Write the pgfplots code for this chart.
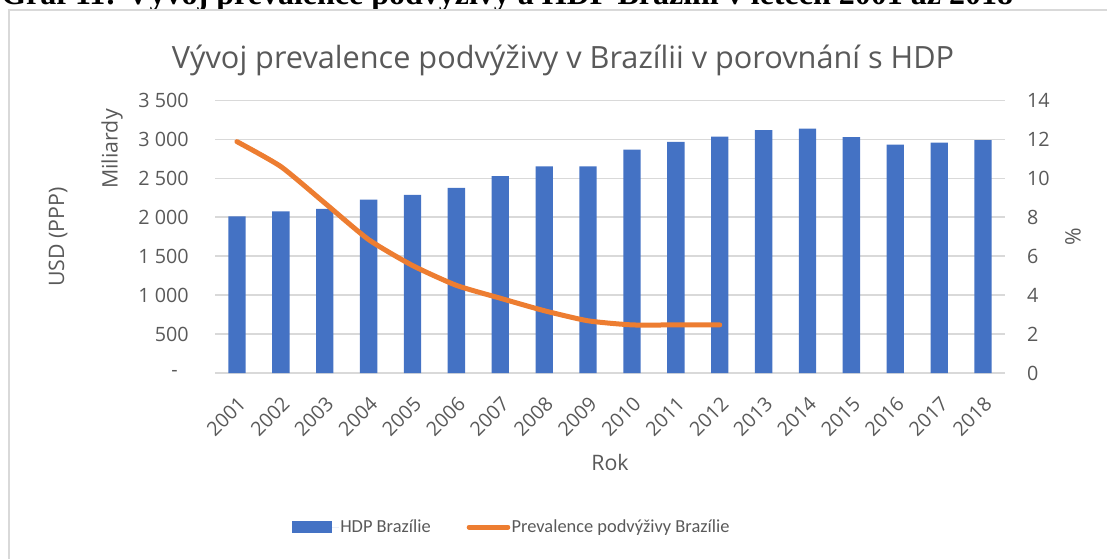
\documentclass[border=0pt]{standalone}
\usepackage{fontspec}
\setmainfont{Open Sans}
\newfontfamily\carlito{Carlito}
\newfontfamily\capfont{Liberation Serif}
\usepackage{pgfplots}
\pgfplotsset{compat=1.18}
\definecolor{barblue}{HTML}{4472C4}
\definecolor{lineor}{HTML}{ED7D31}
\definecolor{txtgray}{HTML}{595959}
\definecolor{gridgray}{HTML}{D9D9D9}
\begin{document}
\begin{tikzpicture}[x=0.75pt,y=0.75pt]
\useasboundingbox (0,0) rectangle (1107,558);
\clip (0,0) rectangle (1107,558);
\node[anchor=base west, inner sep=0pt, font=\capfont\bfseries\fontsize{24}{28}\selectfont] at (1,553) {Graf 11: Vývoj prevalence podvýživy a HDP Brazílii v letech 2001 až 2018};
\draw[gridgray, line width=1.1pt] (9,-20) -- (9,548) -- (1130,548);
\node[anchor=base, inner sep=0pt, text=txtgray, font=\fontsize{23}{27}\selectfont] at (563,489) {Vývoj prevalence podvýživy v Brazílii v porovnání s HDP};

\begin{axis}[
  at={(161.25pt,138.75pt)}, anchor=south west, scale only axis,
  width=592.5pt, height=204.5pt,
  xmin=-0.5, xmax=17.5, ymin=0, ymax=3500,
  axis line style={draw=none}, major tick length=0pt,
  ymajorgrids, grid style={gridgray, line width=1.1pt},
  xtick={0,...,17},
  xticklabels={2001,2002,2003,2004,2005,2006,2007,2008,2009,2010,2011,2012,2013,2014,2015,2016,2017,2018},
  xticklabel style={yshift=-16.5pt, rotate=45, anchor=north east, inner sep=0pt, text=txtgray, font=\fontsize{14.8}{17}\selectfont},
  ytick={0,500,...,3500},
  yticklabels={\mbox{-\hspace*{8.25pt}},500,1 000,1 500,2 000,2 500,3 000,3 500},
  yticklabel style={anchor=east, inner sep=0pt, xshift=-19.5pt, text=txtgray, font=\fontsize{14.8}{17}\selectfont},
  xlabel={Rok},
  xlabel style={at={(axis description cs:0.5,-0.3265)}, anchor=center, inner sep=0pt, text=txtgray, font=\fontsize{16}{19}\selectfont},
  ylabel={USD (PPP)},
  ylabel style={at={(axis description cs:-0.1987,0.499)}, anchor=center, rotate=0, inner sep=0pt, text=txtgray, font=\fontsize{16}{19}\selectfont},
  clip=false,
]
\addplot[ybar, bar width=13pt, fill=barblue, draw=none] coordinates {
(0,2011) (1,2076) (2,2106) (3,2226) (4,2286) (5,2376) (6,2526) (7,2651) (8,2651)
(9,2866) (10,2968) (11,3033) (12,3118) (13,3136) (14,3028) (15,2930) (16,2956) (17,2989)};
\node[rotate=90, inner sep=0pt, text=txtgray, font=\fontsize{16}{19}\selectfont] at (axis description cs:-0.1304,0.8217) {Miliardy};
\end{axis}

\begin{axis}[
  at={(161.25pt,138.75pt)}, anchor=south west, scale only axis,
  width=592.5pt, height=204.5pt,
  xmin=-0.5, xmax=17.5, ymin=0, ymax=14,
  axis x line=none, axis y line*=right,
  axis line style={draw=none}, major tick length=0pt,
  ytick={0,2,...,14},
  /pgf/number format/assume math mode=true,
  yticklabel style={anchor=west, inner sep=0pt, xshift=16.3pt, text=txtgray, font=\fontsize{14.8}{17}\selectfont},
  ylabel={\%},
  ylabel style={at={(axis description cs:1.086,0.499)}, anchor=center, rotate=0, inner sep=0pt, text=txtgray, font=\fontsize{16}{19}\selectfont},
  legend style={at={(axis description cs:0.0924,-0.565)}, anchor=west, draw=none, fill=none,
    legend columns=2, font=\carlito\fontsize{13.8}{16}\selectfont, text=txtgray,
    nodes={inner sep=1pt},
    /tikz/every even column/.append style={column sep=26pt}},
  clip=false,
]
\addlegendimage{draw=none, fill=barblue, legend image code/.code={\fill[barblue] (0pt,-4.5pt) rectangle (30pt,4.5pt); \path (0pt,0pt) -- (35pt,0pt);}}
\addlegendentry{HDP Brazílie}
\addplot[lineor, line width=3.75pt, line cap=round, line join=round, smooth, tension=0.35,
  legend image code/.code={\draw[lineor,line width=3.75pt,line cap=round] (1.5pt,0pt) -- (30.5pt,0pt);}]
 coordinates {(0,11.88) (1,10.6) (2,8.73) (3,6.85) (4,5.52) (5,4.5) (6,3.84) (7,3.2) (8,2.68) (9,2.47) (10,2.47) (11,2.47)};
\addlegendentry{Prevalence podvýživy Brazílie}
\end{axis}
\end{tikzpicture}
\end{document}
